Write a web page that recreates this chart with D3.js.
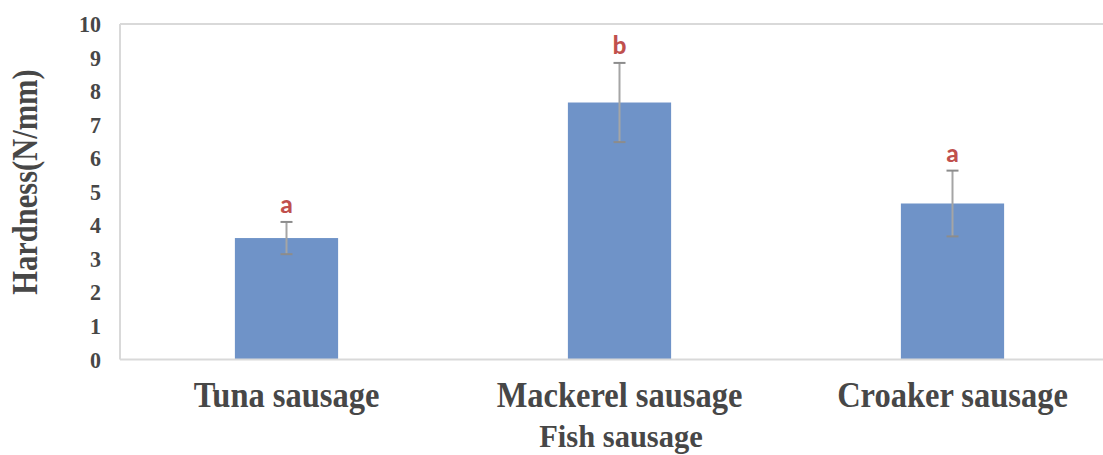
<!DOCTYPE html>
<html>
<head>
<meta charset="utf-8">
<script src="https://cdn.jsdelivr.net/npm/d3@7"></script>
<style>
  html, body { margin: 0; padding: 0; background: #fff; }
  svg { display: block; }
</style>
</head>
<body>
<svg id="chart" width="1103" height="455"></svg>
<script>
// Hardness of three fish sausages, mean ± SD with significance letters
const categories = ["Tuna sausage", "Mackerel sausage", "Croaker sausage"];
const hardness   = [3.62, 7.66, 4.65];
const errorSD    = [0.48, 1.18, 0.98];
const sigLetters = ["a", "b", "a"];
const yTicks     = [0, 1, 2, 3, 4, 5, 6, 7, 8, 9, 10];

const svg = d3.select("#chart");
const plotLeft = 120, plotRight = 1119, plotTop = 24, plotBottom = 359.5;

const x = d3.scaleBand().domain(categories).range([plotLeft, plotRight])
  .paddingInner(0.69).paddingOuter(0.345);
const y = d3.scaleLinear().domain([0, 10]).range([plotBottom, plotTop]);

const serif = "'Liberation Serif', 'Times New Roman', serif";
const textCol = "#474747";

// plot frame (top and left edges)
svg.append("line").attr("x1", plotLeft).attr("x2", 1103).attr("y1", plotTop).attr("y2", plotTop)
  .attr("stroke", "#d9d9d9").attr("stroke-width", 2);
svg.append("line").attr("x1", plotLeft).attr("x2", plotLeft).attr("y1", plotTop).attr("y2", plotBottom)
  .attr("stroke", "#d9d9d9").attr("stroke-width", 2);

// bars
svg.append("g").selectAll("rect").data(categories).join("rect")
  .attr("x", d => x(d))
  .attr("width", x.bandwidth())
  .attr("y", (d, i) => y(hardness[i]))
  .attr("height", (d, i) => y(0) - y(hardness[i]))
  .attr("fill", "#6f93c8");

// x axis baseline
svg.append("line").attr("x1", plotLeft).attr("x2", 1103).attr("y1", plotBottom).attr("y2", plotBottom)
  .attr("stroke", "#d9d9d9").attr("stroke-width", 2);

// error bars
const eb = svg.append("g").attr("stroke", "#a5a5a5").attr("stroke-width", 2);
categories.forEach((c, i) => {
  const cx = x(c) + x.bandwidth() / 2;
  const hi = y(hardness[i] + errorSD[i]), lo = y(hardness[i] - errorSD[i]);
  eb.append("line").attr("x1", cx).attr("x2", cx).attr("y1", hi).attr("y2", lo);
  eb.append("line").attr("x1", cx - 6).attr("x2", cx + 6).attr("y1", hi).attr("y2", hi).attr("stroke", "#8c8c8c");
  eb.append("line").attr("x1", cx - 6).attr("x2", cx + 6).attr("y1", lo).attr("y2", lo).attr("stroke", "#8c8c8c");
});

// significance letters
svg.append("g").selectAll("text").data(categories).join("text")
  .attr("x", d => x(d) + x.bandwidth() / 2)
  .attr("y", (d, i) => y(hardness[i] + errorSD[i]) - 9)
  .attr("text-anchor", "middle")
  .attr("font-family", "Carlito, 'Liberation Sans', Arial, sans-serif")
  .attr("font-weight", "bold").attr("font-size", 26)
  .attr("fill", "#c0504d")
  .text((d, i) => sigLetters[i]);

// y axis tick labels
const yAxis = d3.axisLeft(y).tickValues(yTicks).tickSize(0).tickPadding(0);
const yg = svg.append("g").attr("transform", "translate(101,0)").call(yAxis);
yg.select(".domain").remove();
yg.selectAll("text").attr("font-family", serif).attr("font-weight", "bold")
  .attr("font-size", 22).attr("fill", textCol)
  .attr("x", 0).attr("dy", 0).attr("y", 0)
  .attr("transform", "translate(0,7.5) scale(1,1.06)");

// x axis category labels
const xAxis = d3.axisBottom(x).tickSize(0).tickPadding(0);
const xg = svg.append("g").call(xAxis);
xg.select(".domain").remove();
xg.selectAll("text").attr("font-family", serif).attr("font-weight", "bold")
  .attr("font-size", 32.5).attr("fill", textCol)
  .attr("y", 0).attr("dy", 0)
  .attr("transform", "translate(0,407) scale(1,1.07)");

// axis titles
svg.append("text").attr("transform", "translate(621,447) scale(1,1.05)")
  .attr("text-anchor", "middle")
  .attr("font-family", serif).attr("font-weight", "bold").attr("font-size", 30.5)
  .attr("fill", textCol).text("Fish sausage");
svg.append("text").attr("transform", "translate(37,182) rotate(-90) scale(1,1.17)")
  .attr("text-anchor", "middle")
  .attr("font-family", serif).attr("font-weight", "bold").attr("font-size", 30.5)
  .attr("fill", textCol).text("Hardness(N/mm)");
</script>
</body>
</html>
